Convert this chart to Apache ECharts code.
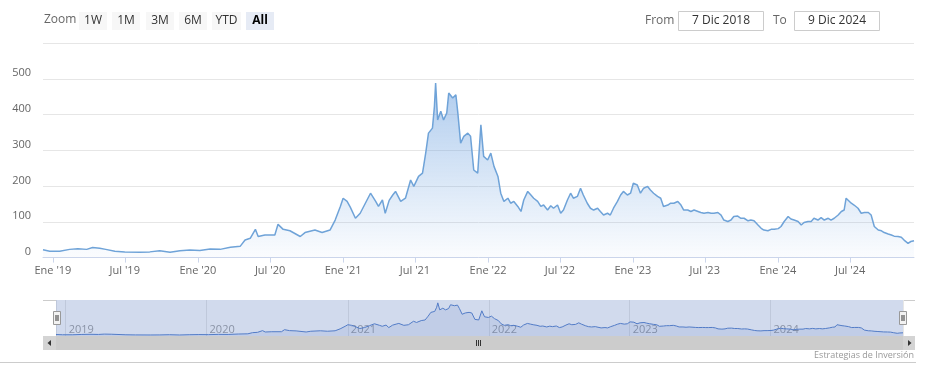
<!DOCTYPE html>
<html><head><meta charset="utf-8">
<script src="https://cdn.jsdelivr.net/npm/echarts@6/dist/echarts.min.js"></script>
<style>html,body{margin:0;padding:0;background:#fff}#c{width:929px;height:381px}</style>
</head><body><div id="c"></div><script>
const dates = [
'2018-12-07','2018-12-24','2019-01-18','2019-02-12','2019-03-05','2019-03-27','2019-04-11','2019-04-29','2019-05-14','2019-06-06',
'2019-07-01','2019-08-08','2019-09-02','2019-09-27','2019-10-23','2019-11-17','2019-12-12','2020-01-06','2020-02-01','2020-02-26',
'2020-03-23','2020-04-17','2020-04-29','2020-05-12','2020-05-25','2020-06-01','2020-06-18','2020-07-13','2020-07-21','2020-08-03',
'2020-08-20','2020-09-15','2020-09-27','2020-10-22','2020-11-09','2020-11-29','2020-12-12','2020-12-25','2021-01-01','2021-01-11',
'2021-01-19','2021-02-01','2021-02-13','2021-02-26','2021-03-11','2021-03-24','2021-03-31','2021-04-10','2021-04-17','2021-04-27',
'2021-05-06','2021-05-13','2021-05-26','2021-06-07','2021-06-20','2021-06-28','2021-07-10','2021-07-20','2021-07-28','2021-08-04',
'2021-08-14','2021-08-19','2021-08-22','2021-08-27','2021-09-04','2021-09-11','2021-09-19','2021-09-24','2021-10-04','2021-10-12',
'2021-10-17','2021-10-24','2021-11-01','2021-11-11','2021-11-18','2021-11-26','2021-12-06','2021-12-14','2021-12-21','2021-12-31',
'2022-01-08','2022-01-16','2022-01-26','2022-02-02','2022-02-10','2022-02-20','2022-02-27','2022-03-07','2022-03-17','2022-03-25',
'2022-04-01','2022-04-11','2022-04-19','2022-04-26','2022-05-06','2022-05-14','2022-05-21','2022-05-31','2022-06-08','2022-06-15',
'2022-06-25','2022-07-03','2022-07-10','2022-07-20','2022-07-28','2022-08-04','2022-08-14','2022-08-22','2022-08-29','2022-09-08',
'2022-09-16','2022-09-24','2022-10-04','2022-10-11','2022-10-19','2022-10-29','2022-11-05','2022-11-13','2022-11-23','2022-12-01',
'2022-12-08','2022-12-18','2022-12-26','2023-01-02','2023-01-12','2023-01-20','2023-01-28','2023-02-07','2023-02-14','2023-02-22',
'2023-03-04','2023-03-12','2023-03-19','2023-03-30','2023-04-06','2023-04-14','2023-04-24','2023-05-02','2023-05-09','2023-05-19',
'2023-05-27','2023-06-04','2023-06-14','2023-06-21','2023-06-29','2023-07-09','2023-07-17','2023-07-24','2023-08-03','2023-08-11',
'2023-08-18','2023-08-28','2023-09-05','2023-09-12','2023-09-22','2023-09-30','2023-10-08','2023-10-18','2023-10-25','2023-11-02',
'2023-11-12','2023-11-20','2023-11-27','2023-12-07','2023-12-15','2023-12-23','2024-01-02','2024-01-09','2024-01-17','2024-01-27',
'2024-02-03','2024-02-11','2024-02-21','2024-02-29','2024-03-07','2024-03-17','2024-03-25','2024-04-01','2024-04-11','2024-04-19',
'2024-04-27','2024-05-07','2024-05-14','2024-05-22','2024-06-01','2024-06-09','2024-06-16','2024-06-21','2024-06-26','2024-07-04',
'2024-07-11','2024-07-21','2024-07-29','2024-08-06','2024-08-16','2024-08-23','2024-08-31','2024-09-10','2024-09-18','2024-09-25',
'2024-10-05','2024-10-13','2024-10-20','2024-10-30','2024-11-07','2024-11-14','2024-11-24','2024-12-01','2024-12-09'
];
const values = [
22,18,18,23,25,23,28,26,23,18,
16,15,16,19,15,19,21,20,24,23,
29,32,49,54,79,59,63,63,93,79,
75,59,70,77,70,77,105,143,166,157,
141,110,124,152,180,157,143,161,124,160,
175,185,157,166,217,199,227,236,292,348,
362,423,488,385,409,385,404,460,446,455,
404,320,339,348,339,245,236,371,283,273,
292,255,227,180,157,166,152,157,143,129,
161,185,175,166,157,143,147,133,145,138,
147,124,133,161,180,166,171,194,175,152,
138,133,138,129,119,124,119,138,157,175,
185,175,180,208,203,180,194,199,189,180,
171,166,143,147,152,152,157,147,133,133,
129,133,129,126,124,126,124,124,126,119,
105,101,105,115,116,110,110,103,105,103,
91,82,77,75,79,79,81,87,101,115,
108,105,101,91,98,101,101,110,105,112,
105,110,105,110,119,129,133,166,161,152,
147,138,124,126,126,119,87,77,75,70,
66,63,60,59,57,49,40,45,47
];
const yTicks = [0,100,200,300,400,500,600];
const monthNames = ['Ene','Feb','Mar','Abr','May','Jun','Jul','Ago','Sep','Oct','Nov','Dic'];
const rangeButtons = ['1W','1M','3M','6M','YTD','All'];
const fromText = '7 Dic 2018';
const toText = '9 Dic 2024';
const creditText = 'Estrategias de Inversión';

const FONT = '"Open Sans", "DejaVu Sans", sans-serif';
const seriesData = dates.map((d,i)=>[d, values[i]]);
const chart = echarts.init(document.getElementById('c'), null, {renderer:'canvas'});

const btnX = [79,112,146,179,212,246];
const btnW = [28,28,28,28,29,28];
const graphics = [];
graphics.push({type:'text', left:44, top:14, style:{text:'Zoom', fill:'#666', font:'12px '+FONT}});
rangeButtons.forEach((b,i)=>{
  const sel = b==='All';
  graphics.push({type:'rect', shape:{x:btnX[i], y:12, width:btnW[i], height:18, r:0},
    style:{fill: sel?'#e6ebf5':'#f7f7f7'}});
  graphics.push({type:'text', x:btnX[i]+btnW[i]/2, y:21, style:{text:b, fill: sel?'#000':'#333',
    font:(sel?'bold ':'')+'12px '+FONT, align:'center', verticalAlign:'middle'}});
});
graphics.push({type:'text', x:645, y:21, style:{text:'From', fill:'#666', font:'12px '+FONT, verticalAlign:'middle'}});
graphics.push({type:'rect', shape:{x:678.5, y:11.5, width:85, height:19}, style:{fill:'#fff', stroke:'#cccccc', lineWidth:1}});
graphics.push({type:'text', x:721, y:21, style:{text:fromText, fill:'#333', font:'12px '+FONT, align:'center', verticalAlign:'middle'}});
graphics.push({type:'text', x:773, y:21, style:{text:'To', fill:'#666', font:'12px '+FONT, verticalAlign:'middle'}});
graphics.push({type:'rect', shape:{x:794.5, y:11.5, width:85, height:19}, style:{fill:'#fff', stroke:'#cccccc', lineWidth:1}});
graphics.push({type:'text', x:837, y:21, style:{text:toText, fill:'#333', font:'12px '+FONT, align:'center', verticalAlign:'middle'}});
// navigator outline & mask
graphics.push({type:'line', shape:{x1:43, y1:300.5, x2:56, y2:300.5}, style:{stroke:'#cccccc', lineWidth:1}});
graphics.push({type:'line', shape:{x1:903, y1:300.5, x2:915, y2:300.5}, style:{stroke:'#cccccc', lineWidth:1}});
graphics.push({type:'rect', z:10, shape:{x:56, y:300, width:847, height:36}, style:{fill:'rgba(102,133,194,0.3)'}});
// handles
[[53],[899]].forEach(([hx])=>{
  graphics.push({type:'rect', z:11, shape:{x:hx+0.5, y:311.5, width:7, height:13}, style:{fill:'#f2f2f2', stroke:'#999', lineWidth:1}});
  graphics.push({type:'line', z:12, shape:{x1:hx+3, y1:315, x2:hx+3, y2:321}, style:{stroke:'#333', lineWidth:1}});
  graphics.push({type:'line', z:12, shape:{x1:hx+5, y1:315, x2:hx+5, y2:321}, style:{stroke:'#333', lineWidth:1}});
});
// scrollbar
graphics.push({type:'rect', shape:{x:43, y:336, width:872, height:14}, style:{fill:'#f2f2f2'}});
graphics.push({type:'rect', shape:{x:56, y:336, width:847, height:14}, style:{fill:'#cccccc'}});
graphics.push({type:'rect', shape:{x:43, y:336, width:13, height:14}, style:{fill:'#d4d4d4'}});
graphics.push({type:'rect', shape:{x:903, y:336, width:12, height:14}, style:{fill:'#d4d4d4'}});
graphics.push({type:'polygon', shape:{points:[[51,340],[51,346],[47.5,343]]}, style:{fill:'#333'}});
graphics.push({type:'polygon', shape:{points:[[908,340],[908,346],[911.5,343]]}, style:{fill:'#333'}});
[476.5,478.5,480.5].forEach(gx=>graphics.push({type:'line', shape:{x1:gx, y1:340, x2:gx, y2:346}, style:{stroke:'#333', lineWidth:1}}));
// bottom separator + credit
graphics.push({type:'line', shape:{x1:0, y1:362.5, x2:916, y2:362.5}, style:{stroke:'#cccccc', lineWidth:1}});
graphics.push({type:'text', x:914, y:355, style:{text:creditText, fill:'#999', font:'9px '+FONT, align:'right', verticalAlign:'middle'}});

const option = {
  animation:false,
  textStyle:{fontFamily:FONT},
  graphic: graphics,
  grid:[
    {left:43, right:15, top:43, bottom:123.4},
    {left:56, right:26, top:300, height:36}
  ],
  xAxis:[
    {type:'time', gridIndex:0, min:'2018-12-07', max:'2024-12-09', boundaryGap:false,
     splitNumber:12, minInterval:175*864e5, maxInterval:190*864e5,
     axisLine:{lineStyle:{color:'#ccd6eb'}},
     axisTick:{show:true, length:5, lineStyle:{color:'#ccd6eb'}},
     splitLine:{show:false},
     axisLabel:{color:'#666', fontSize:11, margin:8, fontFamily:FONT, hideOverlap:false,
       formatter:function(v){const d=new Date(v); const m=d.getMonth(); if(d.getDate()!==1||(m!==0&&m!==6)) return ''; return monthNames[m]+" '"+String(d.getFullYear()).slice(2);}}
    },
    {type:'time', gridIndex:1, min:'2018-12-07', max:'2024-12-09', boundaryGap:false,
     splitNumber:6, minInterval:360*864e5,
     axisLine:{show:false}, axisTick:{show:false},
     splitLine:{show:true, lineStyle:{color:'#e6e6e6', width:1}},
     axisLabel:{inside:true, color:'#999', fontSize:11, align:'left', verticalAlign:'bottom', margin:1, padding:[0,0,0,3], fontFamily:FONT,
       formatter:function(v){const d=new Date(v); if(d.getMonth()!==0||d.getDate()!==1) return ''; return String(d.getFullYear());}}
    }
  ],
  yAxis:[
    {type:'value', gridIndex:0, min:0, max:600, interval:100,
     axisLine:{show:false}, axisTick:{show:false},
     splitLine:{lineStyle:{color:'#e6e6e6'}},
     axisLabel:{color:'#666', fontSize:11, margin:12, verticalAlign:'bottom', fontFamily:FONT,
       formatter:function(v){return v===600?'':String(v);}}
    },
    {type:'value', gridIndex:1, min:0, max:530, show:false, splitLine:{show:false}}
  ],
  series:[
    {type:'line', xAxisIndex:0, yAxisIndex:0, data:seriesData, showSymbol:false, symbol:'none',
     lineStyle:{color:'#6fa3d8', width:1.5},
     areaStyle:{color:new echarts.graphic.LinearGradient(0,0,0,1,[
       {offset:0, color:'rgba(104,158,222,0.75)'},
       {offset:1, color:'rgba(104,158,222,0.04)'}])}
    },
    {type:'line', xAxisIndex:1, yAxisIndex:1, data:seriesData, showSymbol:false, symbol:'none',
     lineStyle:{color:'#4a78c8', width:1},
     areaStyle:{color:'rgba(70,110,190,0.18)'}
    }
  ]
};
chart.setOption(option);
</script></body></html>
